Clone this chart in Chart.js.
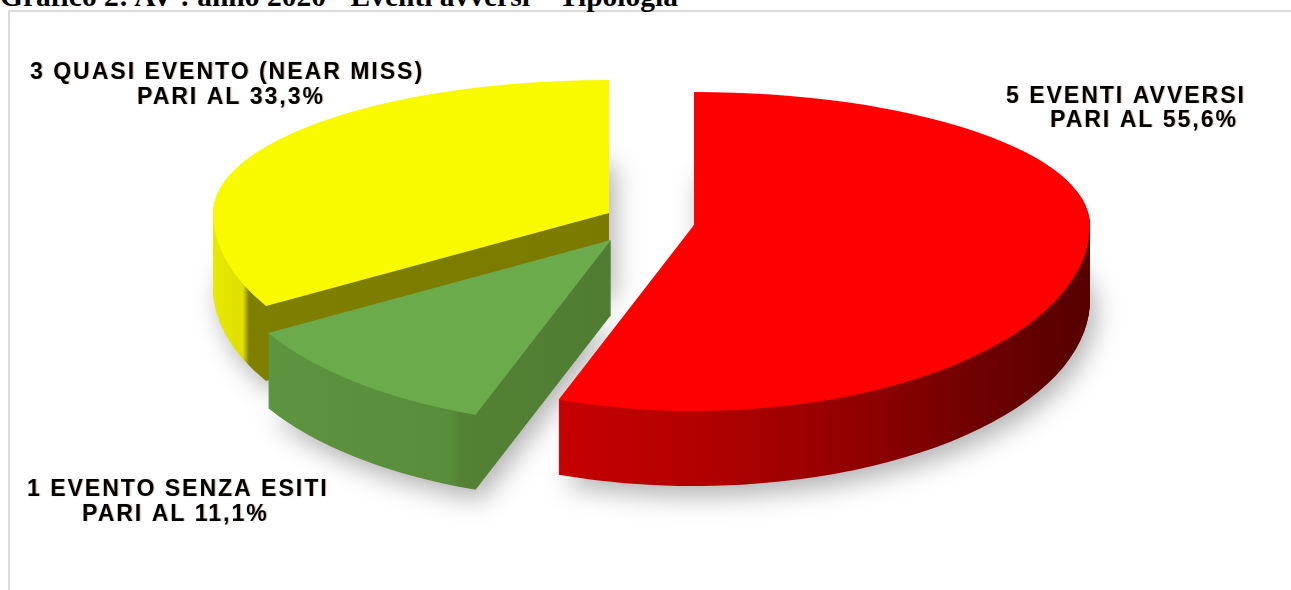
<!DOCTYPE html>
<html>
<head>
<meta charset="utf-8">
<script src="https://cdn.jsdelivr.net/npm/chart.js@4/dist/chart.umd.min.js"></script>
<style>
  html, body { margin: 0; padding: 0; background: #fff; overflow: hidden; }
  #wrap { position: relative; width: 1291px; height: 590px; overflow: hidden; }
  #title { position: absolute; left: 0; top: -18px; font: bold 29.5px "Liberation Serif", "Times New Roman", serif; line-height: 29.5px; white-space: nowrap; color: #000; }
  #frame { position: absolute; left: 8px; top: 10px; width: 1400px; height: 700px; border: 2px solid #dadada; }
  #c { position: absolute; left: 0; top: 0; }
</style>
</head>
<body>
<div id="wrap">
  <div id="frame"></div>
  <div id="title">Grafico 2: AV : anno 2020 - Eventi avversi – Tipologia</div>
  <canvas id="c" width="1291" height="590"></canvas>
</div>
<script>
// ---- data ----
const CATEGORIES = ['EVENTI AVVERSI', 'EVENTO SENZA ESITI', 'QUASI EVENTO (NEAR MISS)'];
const COUNTS = [5, 1, 3];
const LABEL_PREFIX = 'PARI AL';

// ---- styles ----
const TOP_COLORS = ['#fe0000', '#6cab4c', '#f9f900'];
const SIDE_STOPS = [
  [[553, '#c80000'], [700, '#b20000'], [850, '#930000'], [1000, '#690000'], [1090, '#560000']],
  [[215, '#5f9641'], [450, '#588d3a'], [460, '#548235'], [615, '#4f7c31']],
  [[213, '#e9e900'], [243, '#dede00'], [249, '#7f7f00'], [615, '#7a7a00']]
];

// ---- layout (screen px) ----
const TIPS = [[694, 225], [611, 240], [609, 213]];
const RX = 396, RYB = 133, RYF = 186, DEPTH = 75;
const LABEL_POS = [
  [[1006, 103], [1050, 127]],
  [[27, 496], [82, 521]],
  [[30, 79], [137, 104]]
];

function pct(v) {
  const tot = COUNTS.reduce((a, b) => a + b, 0);
  return (v / tot * 100).toFixed(1).replace('.', ',') + '%';
}

function drawSlice(ctx, arc, i, fill, dy) {
  const [tx, ty] = TIPS[i];
  const r = arc.outerRadius;
  const orig = arc.options;
  arc.options = Object.assign({}, orig, { backgroundColor: fill, borderWidth: 0, offset: 0, spacing: 0 });
  const halves = [[RYB, -3 * r, 3 * r + 1.2 * r / RYB], [RYF, 0, 3 * r]];
  for (const [ry, y0, h] of halves) {
    ctx.save();
    ctx.translate(tx, ty + dy);
    ctx.scale(RX / r, ry / r);
    ctx.beginPath();
    ctx.rect(-3 * r, y0, 6 * r, h);
    ctx.clip();
    ctx.translate(-arc.x, -arc.y);
    arc.draw(ctx);
    ctx.restore();
  }
  arc.options = orig;
}

const pie3d = {
  id: 'pie3d',
  beforeDatasetsDraw(chart) {
    const ctx = chart.ctx;
    const arcs = chart.getDatasetMeta(0).data;
    const sideFills = arcs.map((arc, i) => {
      const r = arc.outerRadius;
      const toUser = X => arc.x + (X - TIPS[i][0]) * r / RX;
      const st = SIDE_STOPS[i];
      const x0 = st[0][0], x1 = st[st.length - 1][0];
      const g = ctx.createLinearGradient(toUser(x0), 0, toUser(x1), 0);
      st.forEach(([x, c]) => g.addColorStop((x - x0) / (x1 - x0), c));
      return g;
    });
    // soft shadow under the pie: silhouette of the lowest layer, drawn offscreen
    const off = document.createElement('canvas');
    off.width = chart.width; off.height = chart.height;
    const octx = off.getContext('2d');
    arcs.forEach((arc, i) => drawSlice(octx, arc, i, '#000', DEPTH));
    ctx.save();
    ctx.shadowColor = 'rgba(0,0,0,0.30)';
    ctx.shadowBlur = 26;
    ctx.shadowOffsetX = 3000 + 6;
    ctx.shadowOffsetY = 10;
    ctx.drawImage(off, -3000, 0);
    ctx.restore();

    for (let d = DEPTH; d >= 1; d--) {
      arcs.forEach((arc, i) => drawSlice(ctx, arc, i, sideFills[i], d));
    }
    arcs.forEach((arc, i) => drawSlice(ctx, arc, i, TOP_COLORS[i], 0));
    return false;
  },
  afterDraw(chart) {
    const ctx = chart.ctx;
    ctx.save();
    ctx.font = 'bold 23px "Liberation Sans", Arial, sans-serif';
    if ('letterSpacing' in ctx) ctx.letterSpacing = '2px';
    ctx.fillStyle = '#000';
    ctx.textAlign = 'left';
    ctx.textBaseline = 'alphabetic';
    ctx.shadowColor = 'rgba(120,40,0,0.35)';
    ctx.shadowBlur = 1;
    ctx.shadowOffsetX = 1;
    COUNTS.forEach((v, i) => {
      const lines = [v + ' ' + CATEGORIES[i], LABEL_PREFIX + ' ' + pct(v)];
      lines.forEach((t, k) => ctx.fillText(t, LABEL_POS[i][k][0], LABEL_POS[i][k][1]));
    });
    ctx.restore();
  }
};

new Chart(document.getElementById('c'), {
  type: 'pie',
  data: {
    labels: CATEGORIES,
    datasets: [{ data: COUNTS, backgroundColor: TOP_COLORS, borderWidth: 0 }]
  },
  options: {
    responsive: false,
    devicePixelRatio: 1,
    animation: false,
    layout: { padding: 40 },
    plugins: { legend: { display: false }, tooltip: { enabled: false } }
  },
  plugins: [pie3d]
});
</script>
</body>
</html>
